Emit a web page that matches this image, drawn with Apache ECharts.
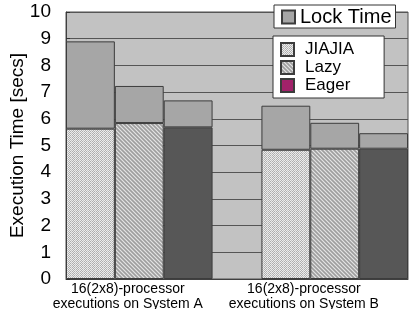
<!DOCTYPE html>
<html><head><meta charset="utf-8">
<script src="https://cdn.jsdelivr.net/npm/echarts@6/dist/echarts.min.js"></script>
<style>html,body{margin:0;padding:0;background:#fff}#c{width:409px;height:309px}</style>
</head><body><div id="c"></div>
<script>
// ---- data ----
const slots = ['A-JIAJIA', 'A-Lazy', 'A-Eager', '', 'B-JIAJIA', 'B-Lazy', 'B-Eager'];
const groupLabels = ['16(2x8)-processor\nexecutions on System A', '16(2x8)-processor\nexecutions on System B'];
const jiajia = [5.63, 4.84];       // System A, System B
const lazy = [5.84, 4.88];
const eager = [5.68, 4.88];
const lockTimeA = [3.27, 1.39, 1.01]; // JIAJIA, Lazy, Eager on System A
const lockTimeB = [1.65, 0.97, 0.58]; // JIAJIA, Lazy, Eager on System B
const yTicks = [0, 1, 2, 3, 4, 5, 6, 7, 8, 9, 10];

// ---- patterns ----
function pattern(draw, w, h) {
  const c = document.createElement('canvas'); c.width = w; c.height = h;
  const g = c.getContext('2d'); draw(g); return c;
}
const jiajiaPat = pattern(g => {
  for (let y = 0; y < 4; y++) for (let x = 0; x < 4; x++) {
    g.fillStyle = ((x + y) % 2 === 0) ? '#ececec' : '#aeaeae';
    if (x === 3 && (x + y) % 2 === 1) g.fillStyle = '#c4c4c4';
    g.fillRect(x, y, 1, 1);
  }
}, 4, 4);
const lazyPat = pattern(g => {
  for (let y = 0; y < 4; y++) for (let x = 0; x < 4; x++) {
    let col = ((x + y) % 2 === 0) ? '#e2e2e2' : '#b4b4b4';
    if ((x - y + 4) % 4 === 0) col = '#9e9e9e';
    g.fillStyle = col; g.fillRect(x, y, 1, 1);
  }
}, 4, 4);

// ---- build slot data ----
const dash = '-';
const jiajiaData = [jiajia[0], dash, dash, dash, jiajia[1], dash, dash];
const lazyData = [dash, lazy[0], dash, dash, dash, lazy[1], dash];
const eagerData = [dash, dash, eager[0], dash, dash, dash, eager[1]];
const lockData = [...lockTimeA, dash, ...lockTimeB];

const border = { borderColor: '#3c3c3c', borderWidth: 1 };
const chart = echarts.init(document.getElementById('c'), null, { renderer: 'canvas' });
chart.setOption({
  animation: false,
  textStyle: { fontFamily: 'Liberation Sans, Arial, sans-serif', color: '#000' },
  grid: { left: 66, right: 1, top: 12, bottom: 30, containLabel: false, outerBoundsMode: 'none',
    show: true, backgroundColor: '#c2c2c2', borderColor: '#505050', borderWidth: 1 },
  legend: [
    {
      data: [{ name: 'Lock Time' }],
      left: 274, top: 5, icon: 'rect',
      backgroundColor: '#fff', borderColor: '#333', borderWidth: 1,
      padding: [2, 4, 1, 7], itemWidth: 13, itemHeight: 13, itemGap: 4,
      textStyle: { fontSize: 20, fontFamily: 'Liberation Sans', color: '#000', padding: [0, 0, 0, 0] }
    },
    {
      data: [{ name: 'JIAJIA' }, { name: 'Lazy' }, { name: 'Eager', itemStyle: { color: '#a2226a' } }],
      orient: 'vertical', left: 273, top: 36, icon: 'rect',
      backgroundColor: '#fff', borderColor: '#333', borderWidth: 1,
      padding: [5, 30, 4, 7], itemWidth: 13, itemHeight: 13, itemGap: 1,
      textStyle: { fontSize: 17, fontFamily: 'Liberation Sans', color: '#000', padding: [0, 0, 0, 6] }
    }
  ],
  xAxis: {
    type: 'category', data: slots,
    axisLine: { lineStyle: { color: '#404040' } },
    axisTick: { show: false },
    axisLabel: {
      interval: 0, margin: 3,
      formatter: (v, i) => {
        if (i === 1) return groupLabels[0].split('\n').map(s => '{a|' + s + '}').join('\n');
        if (i === 4) return groupLabels[1].split('\n').map(s => '{b|' + s + '}').join('\n');
        return '';
      },
      rich: {
        a: { fontSize: 14, lineHeight: 15, color: '#000', fontFamily: 'Liberation Sans', padding: [0, 23, 0, 0] },
        b: { fontSize: 14, lineHeight: 15, color: '#000', fontFamily: 'Liberation Sans', padding: [0, 0, 0, 36] }
      }
    }
  },
  yAxis: {
    type: 'value', min: 0, max: 10, interval: 1,
    name: 'Execution Time [secs]', nameLocation: 'middle', nameGap: 39, nameRotate: 90,
    nameMoveOverlap: false,
    nameTextStyle: { fontSize: 19, fontFamily: 'Liberation Sans', color: '#000' },
    axisLine: { show: true, lineStyle: { color: '#404040' } },
    axisTick: { show: true, inside: true, length: 4, lineStyle: { color: '#303030' } },
    splitLine: { lineStyle: { color: '#555', width: 1 } },
    axisLabel: { fontSize: 19, margin: 15, color: '#000', fontFamily: 'Liberation Sans', formatter: v => yTicks.includes(v) ? String(v) : '' }
  },
  series: [
    { name: 'JIAJIA', type: 'bar', stack: 's', barWidth: '100%', data: jiajiaData,
      itemStyle: Object.assign({ color: { image: jiajiaPat, repeat: 'repeat' } }, border) },
    { name: 'Lazy', type: 'bar', stack: 's', barWidth: '100%', data: lazyData,
      itemStyle: Object.assign({ color: { image: lazyPat, repeat: 'repeat' } }, border) },
    { name: 'Eager', type: 'bar', stack: 's', barWidth: '100%', data: eagerData,
      itemStyle: Object.assign({ color: '#575757' }, border) },
    { name: 'Lock Time', type: 'bar', stack: 's', barWidth: '100%', data: lockData,
      itemStyle: Object.assign({ color: '#a6a6a6' }, border) }
  ]
});
</script></body></html>
